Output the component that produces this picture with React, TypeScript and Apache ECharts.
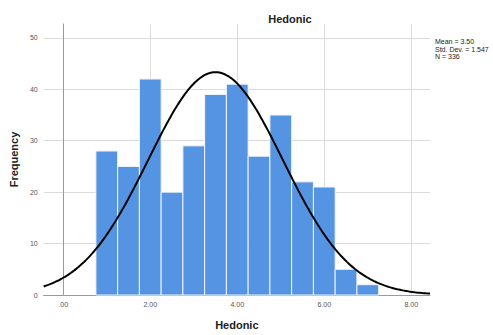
import React, { useEffect, useRef } from "react";
import * as echarts from "echarts";

// Histogram bins of the Hedonic score (lower edge of each bin, width 0.5)
const binLow = [0.75, 1.25, 1.75, 2.25, 2.75, 3.25, 3.75, 4.25, 4.75, 5.25, 5.75, 6.25, 6.75];
const binWidth = 0.5;
const frequency = [28, 25, 42, 20, 29, 39, 41, 27, 35, 22, 21, 5, 2];

// Summary statistics shown beside the plot
const mean = 3.5;
const stdDev = 1.547;
const n = 336;
const statLines = ["Mean = 3.50", "Std. Dev. = 1.547", "N = 336"];

const xMin = -0.45;
const xMax = 8.43;
const yMax = 52.7;

const FONT = "'Liberation Sans', Arial, sans-serif";

function normalCurve(): number[][] {
  const pts: number[][] = [];
  const steps = 200;
  const scale = (n * binWidth) / (stdDev * Math.sqrt(2 * Math.PI));
  for (let i = 0; i <= steps; i++) {
    const x = xMin + ((xMax - xMin) * i) / steps;
    const z = (x - mean) / stdDev;
    pts.push([x, scale * Math.exp(-0.5 * z * z)]);
  }
  return pts;
}

export default function App() {
  const ref = useRef<HTMLDivElement>(null);

  useEffect(() => {
    if (!ref.current) return;
    const chart = echarts.init(ref.current, null, { renderer: "svg" });
    const barData = binLow.map((lo, i) => [lo, lo + binWidth, frequency[i]]);

    chart.setOption({
      animation: false,
      backgroundColor: "#ffffff",
      textStyle: { fontFamily: FONT },
      title: {
        text: "Hedonic",
        left: 285,
        top: 8,
        textAlign: "center",
        textStyle: { fontSize: 11, fontWeight: "bold", color: "#222", fontFamily: FONT },
      },
      grid: { left: 41, right: 63, top: 24, bottom: 37 },
      xAxis: {
        type: "value",
        min: xMin,
        max: xMax,
        splitNumber: 5,
        name: "Hedonic",
        nameLocation: "middle",
        nameGap: 24,
        nameTextStyle: { fontSize: 11, fontWeight: "bold", color: "#222", fontFamily: FONT },
        axisLine: { show: true, onZero: false, lineStyle: { color: "#9a9a9a", width: 1 } },
        axisTick: { show: false },
        axisLabel: {
          fontSize: 7,
          color: "#555",
          margin: 6,
          showMinLabel: false,
          showMaxLabel: false,
          formatter: (v: number) => (v === 0 ? ".00" : v.toFixed(2)),
        },
        splitLine: { show: true, showMinLine: false, showMaxLine: false, lineStyle: { color: "#dcdcdc", width: 1 } },
      },
      yAxis: {
        type: "value",
        min: 0,
        max: yMax,
        interval: 10,
        name: "Frequency",
        nameLocation: "middle",
        nameGap: 24,
        nameTextStyle: { fontSize: 11, fontWeight: "bold", color: "#222", fontFamily: FONT },
        axisLine: { show: true, lineStyle: { color: "#9a9a9a", width: 1 } },
        axisTick: { show: false },
        axisLabel: {
          fontSize: 7,
          color: "#555",
          margin: 6,
          showMaxLabel: false,
          formatter: (v: number) => (v % 10 === 0 ? String(v) : ""),
        },
        splitLine: { show: true, showMaxLine: false, lineStyle: { color: "#dcdcdc", width: 1 } },
      },
      graphic: [
        {
          type: "text",
          left: 435,
          top: 38,
          style: {
            text: statLines.join("\n"),
            fontSize: 7,
            lineHeight: 7.5,
            fill: "#222",
            fontFamily: FONT,
          },
        },
      ],
      series: [
        {
          type: "custom",
          data: barData,
          encode: { x: [0, 1], y: 2 },
          renderItem: (params: any, api: any) => {
            const p0 = api.coord([api.value(0), api.value(2)]);
            const p1 = api.coord([api.value(1), 0]);
            return {
              type: "rect",
              shape: { x: p0[0], y: p0[1], width: p1[0] - p0[0], height: p1[1] - p0[1] },
              style: { fill: "#5594e2", stroke: "#eef4fc", lineWidth: 1 },
            };
          },
          z: 2,
        },
        {
          type: "line",
          data: normalCurve(),
          showSymbol: false,
          symbol: "none",
          smooth: false,
          lineStyle: { color: "#000", width: 2 },
          z: 3,
        },
      ],
    });

    return () => chart.dispose();
  }, []);

  return (
    <div
      ref={ref}
      style={{ position: "fixed", left: 0, top: 0, width: 493, height: 335 }}
    />
  );
}
